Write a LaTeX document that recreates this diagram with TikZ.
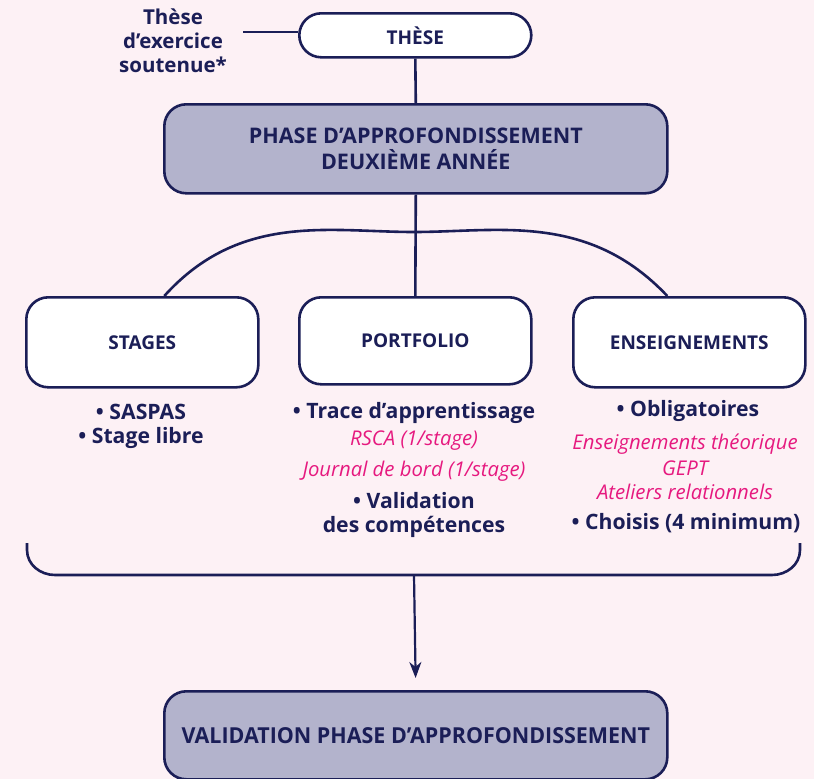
\documentclass[tikz,border=0pt]{standalone}
\usepackage{fontspec}
\setmainfont{Open Sans}
\usetikzlibrary{arrows.meta}
\definecolor{navy}{HTML}{1B1E57}
\definecolor{lav}{HTML}{B3B3CC}
\definecolor{bgpink}{HTML}{FDF1F5}
\definecolor{mag}{HTML}{E6197F}
\begin{document}
\begin{tikzpicture}[x=1pt,y=-1pt,
  box/.style={draw=navy,line width=2.6pt,rounded corners=22pt,inner sep=0pt,anchor=north west,text=navy,font=\bfseries\fontsize{19}{22}\selectfont,align=center},
  wbox/.style={box,fill=white},
  pbox/.style={box,fill=lav,font=\bfseries\fontsize{21.5}{26}\selectfont},
  item/.style={text=navy,font=\bfseries\fontsize{21.2}{26}\selectfont,align=center,inner sep=0pt},
  pink/.style={text=mag,font=\itshape\fontsize{20.3}{24}\selectfont,align=center,inner sep=0pt},
  conn/.style={draw=navy,line width=2.6pt},
]
\fill[bgpink] (0,0) rectangle (814,779);
\useasboundingbox (0,0) rectangle (814,779);

% top
\node[wbox,minimum width=232pt,minimum height=44pt] (these) at (298,12) {TH\`ESE};
\node[item,font=\bfseries\fontsize{20.5}{24}\selectfont] (soutenue) at (173,41) {Th\`ese\\d’exercice\\soutenue*};
\coordinate (tl) at (243,32);
\draw[conn] (tl) -- (these.west |- tl);

\node[pbox,minimum width=503pt,minimum height=89pt] (phase) at (163,103) {PHASE D’APPROFONDISSEMENT\\DEUXI\`EME ANN\'EE};
\draw[conn] (these.south) -- (phase.north);

% three boxes
\node[wbox,minimum width=232pt,minimum height=90pt] (stages) at (25,296) {STAGES};
\node[wbox,minimum width=232pt,minimum height=87pt] (portfolio) at (298,296) {PORTFOLIO};
\node[wbox,minimum width=232pt,minimum height=90pt] (ens) at (572,296) {ENSEIGNEMENTS};
\draw[conn] (phase.south) -- (portfolio.north);
\coordinate (aL) at ([xshift=22pt]stages.north);
\coordinate (aR) at ([xshift=-22pt]ens.north);
\draw[conn] (aL) .. controls (240,212) and (330,232) .. (414,232) .. controls (498,232) and (588,212) .. (aR);

% lists
\node[item] (s1) at (141,412) {• SASPAS};
\node[item] (s2) at (141,438) {• Stage libre};

\node[item] (p1) at (414,413) {• Trace d’apprentissage};
\node[pink] (p2) at (414,441) {RSCA (1/stage)};
\node[pink] (p3) at (414,471) {Journal de bord (1/stage)};
\node[item] (p4) at (414,501) {• Validation};
\node[item] (p5) at (414,527) {des compétences};

\node[item] (e1) at (688,411) {• Obligatoires};
\node[pink] (e2) at (685,444) {Enseignements théorique};
\node[pink] (e3) at (685,468) {GEPT};
\node[pink] (e4) at (685,492) {Ateliers relationnels};
\node[item] (e5) at (686,523) {• Choisis (4 minimum)};

% bracket
\coordinate (bl) at (27,543);
\coordinate (br) at (800,543);
\coordinate (bm) at (414,575);
\draw[conn] (bl) -- (27,550) to[out=-90,in=180] (55,575) -- (772,575) to[out=0,in=-90] (800,550) -- (br);

\node[pbox,minimum width=503pt,minimum height=88pt] (valid) at (163,690) {\fontsize{22}{26}\selectfont\scalebox{0.975}[1]{VALIDATION PHASE D’APPROFONDISSEMENT}};
\draw[conn,line width=2.2pt,shorten >=12pt,-{Stealth[length=16pt,width=12pt,inset=5pt]}] (bm) -- (valid.north);
\end{tikzpicture}
\end{document}
